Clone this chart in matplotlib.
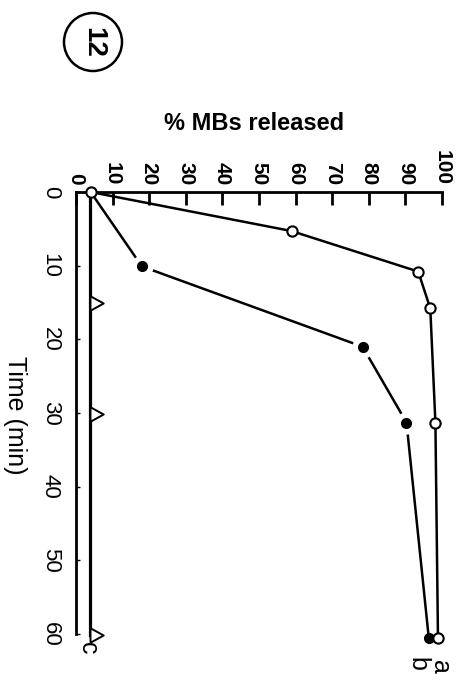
import matplotlib
matplotlib.use("Agg")
from matplotlib import pyplot as plt
from matplotlib.patches import Ellipse

plt.rcParams['font.family'] = ['Liberation Sans', 'DejaVu Sans']

# Dados (tempo em min, % de MBs liberados)
tempo_a = [0, 5.3, 10.8, 15.8, 31.3, 60.6]
pct_a = [4, 58.9, 93.5, 96.8, 98.2, 98.9]

tempo_b = [0, 10.1, 21.0, 31.3, 60.6]
pct_b = [4, 18, 78.3, 90.3, 96.4]

tempo_c = [0, 15, 30.2, 60.2]
pct_c = [3.7, 3.7, 3.7, 3.7]

ticks_pct = list(range(0, 101, 10))
ticks_tempo = list(range(0, 61, 10))

W, H = 462, 682
fig = plt.figure(figsize=(W / 100, H / 100), dpi=100)
ax = fig.add_axes([76 / W, 1 - 634 / H, (442 - 76) / W, (634 - 192) / H])

# serie c (triangulos abertos, base apoiada na linha)
tri = [(0, -0.55), (0, 0.55), (1, 0), (0, -0.55)]
ax.plot(pct_c, tempo_c, color='black', lw=2.3, clip_on=False, zorder=2)
ax.plot(pct_c[1:], tempo_c[1:], ls='none', marker=tri, ms=19, mfc='white',
        mec='black', mew=1.4, clip_on=False, zorder=3)

# serie b (circulos cheios, com folga branca em volta)
ax.plot(pct_b, tempo_b, color='black', lw=1.8, clip_on=False, zorder=2)
ax.plot(pct_b[1:-1], tempo_b[1:-1], ls='none', marker='o', ms=16, mfc='white',
        mec='none', clip_on=False, zorder=3)
ax.plot(pct_b[1:], tempo_b[1:], ls='none', marker='o', ms=7, mfc='black',
        mec='black', clip_on=False, zorder=5)

# serie a (circulos abertos)
ax.plot(pct_a, tempo_a, color='black', lw=1.8, marker='o', ms=7.4, mfc='white',
        mec='black', mew=1.5, clip_on=False, zorder=6)

# letras das curvas
ax.text(pct_a[-1] + 0.5, tempo_a[-1] + 3.9, 'a', rotation=-90, fontsize=18,
        ha='center', va='center', clip_on=False)
ax.text(pct_b[-1] - 3.2, tempo_b[-1] + 3.5, 'b', rotation=-90, fontsize=18,
        ha='center', va='center', clip_on=False)
ax.text(pct_c[-1] - 0.5, tempo_c[-1] + 1.7, 'c', rotation=-90, fontsize=18,
        ha='center', va='center', clip_on=False)

ax.set_xlim(0, 100)
ax.set_ylim(60, 0)
for s in ['right', 'bottom']:
    ax.spines[s].set_visible(False)
for s in ['top', 'left']:
    ax.spines[s].set_linewidth(2)

ax.xaxis.tick_top()
ax.set_xticks(ticks_pct)
ax.tick_params(axis='x', direction='in', length=9, width=2, pad=5,
               labelrotation=-90, labelsize=15)
ax.set_yticks(ticks_tempo)
ax.tick_params(axis='y', direction='in', length=3, width=1, pad=11,
               labelrotation=-90, labelsize=16)
for lab in ax.get_xticklabels():
    lab.set_fontweight('bold')
for lab in ax.get_yticklabels():
    lab.set_verticalalignment('center')

fig.text(254 / W, 1 - 123 / H, '% MBs released', ha='center', va='center',
         fontsize=17, fontweight='bold')
fig.text(15 / W, 1 - 415 / H, 'Time (min)', ha='center', va='center',
         rotation=-90, fontsize=18)

# numero da figura dentro do circulo
fig.add_artist(Ellipse((93 / W, 1 - 42 / H), 58 / W, 58 / H, fill=False,
                       lw=1.8, color='black', transform=fig.transFigure))
fig.text(93 / W, 1 - 42 / H, '12', ha='center', va='center', rotation=-90,
         fontsize=20, fontweight='bold')

fig.savefig('out.png', dpi=100)
